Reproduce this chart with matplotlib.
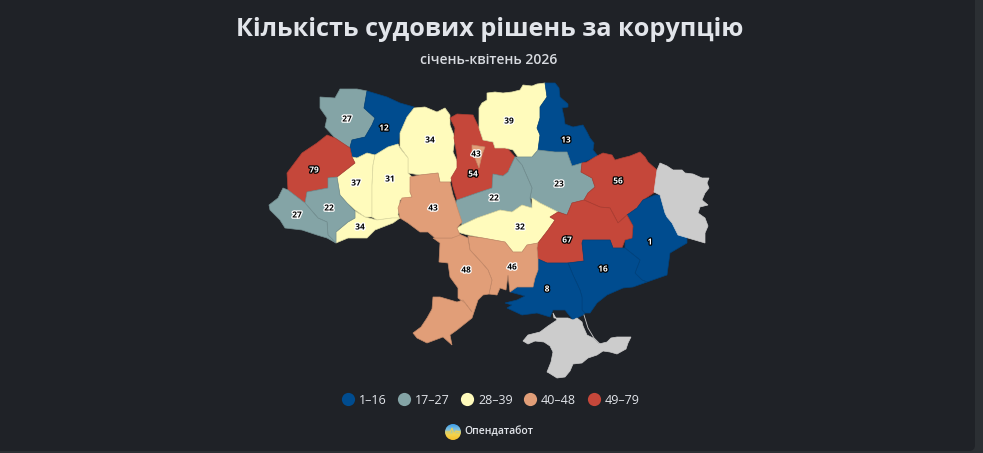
import matplotlib
matplotlib.use("Agg")
from matplotlib import pyplot as plt
from matplotlib.lines import Line2D
from matplotlib.patches import Circle, FancyBboxPatch, Polygon
import matplotlib.colors as mcolors
import matplotlib.patheffects as pe
import numpy as np

plt.rcParams["font.family"] = ["Open Sans", "DejaVu Sans"]

title = "Кількість судових рішень за корупцію"
subtitle = "січень-квітень 2026"
source = "Опендатабот"

regions = ["Волинська", "Рівненська", "Житомирська", "Тернопільська", "Хмельницька", "Чернівецька",
           "Львівська", "Івано-Франківська", "Закарпатська", "Київська", "Київ", "Чернігівська",
           "Сумська", "Полтавська", "Черкаська", "Кіровоградська", "Харківська", "Донецька",
           "Дніпропетровська", "Запорізька", "Херсонська", "Миколаївська", "Одеська", "Вінницька"]
values = [27, 12, 34, 37, 31, 34, 79, 22, 27, 54, 43, 39, 13, 23, 22, 32, 56, 1, 67, 16, 8, 46, 48, 43]

bin_edges = [17, 28, 40, 49]
bin_labels = ["1–16", "17–27", "28–39", "40–48", "49–79"]
bin_colors = ["#004c8f", "#84a4a6", "#fffbbc", "#e19e78", "#c5473a"]
nodata_color = "#cccccc"

# contours in reference pixels
volyn = [(320, 97), (335, 98), (340, 89), (357, 89), (367, 91), (364, 108), (375, 118), (372, 125), (365, 137),
         (352, 140), (350, 148), (342, 143), (335, 138), (325, 127), (327, 118), (320, 108)]
rivne = [(367, 91), (387, 97), (400, 103), (414, 107), (407, 117), (400, 133), (398, 145), (388, 147), (377, 155),
         (367, 153), (357, 158), (352, 157), (350, 147), (352, 140), (365, 137), (372, 125), (375, 118), (364, 108)]
zhytomyr = [(414, 108), (425, 107), (437, 112), (445, 108), (450, 115), (450, 125), (455, 138), (453, 152), (458, 163),
            (457, 173), (450, 182), (440, 182), (438, 173), (420, 175), (408, 173), (408, 158), (400, 147), (400, 133),
            (407, 117)]
ternopil = [(352, 157), (357, 158), (367, 153), (375, 155), (373, 165), (372, 185), (372, 217), (365, 217),
            (355, 210), (347, 203), (340, 195), (337, 177), (355, 163)]
khmelnytskyi = [(375, 155), (388, 147), (398, 144), (400, 148), (408, 158), (408, 173), (412, 177), (410, 192), (412, 197),
                (400, 200), (398, 215), (400, 218), (392, 218), (377, 220), (372, 217), (372, 185), (373, 165)]
chernivtsi = [(355, 211), (365, 217), (377, 220), (392, 218), (400, 218), (393, 223), (375, 230), (367, 238), (348, 238),
              (336, 243), (336, 232), (348, 222), (355, 218)]
lviv = [(327, 135), (335, 138), (350, 148), (352, 157), (355, 163), (337, 177), (328, 178), (328, 188), (307, 192),
        (305, 203), (288, 190), (287, 173), (302, 153), (317, 143)]
frankivsk = [(328, 178), (337, 177), (340, 195), (347, 203), (355, 211), (355, 218), (348, 222), (336, 232), (336, 243),
             (328, 235), (327, 222), (318, 218), (305, 203), (307, 192), (328, 188)]
zakarpattia = [(283, 188), (288, 190), (305, 203), (318, 218), (327, 222), (328, 235), (336, 243), (327, 238),
               (317, 235), (302, 230), (285, 228), (280, 220), (270, 210), (269, 205), (278, 198)]
kyiv_obl = [(450, 118), (457, 114), (473, 115), (479, 128), (483, 140), (493, 142), (495, 148), (507, 148), (515, 157),
            (508, 172), (503, 176), (493, 174), (492, 188), (477, 193), (457, 200), (453, 187), (451, 178), (457, 168),
            (457, 155), (454, 138), (455, 128)]
kyiv_city = [(472, 145), (485, 147), (482, 155), (479, 168), (475, 158), (472, 153)]
chernihiv = [(479, 108), (482, 103), (487, 100), (487, 93), (495, 92), (503, 93), (512, 92), (520, 90), (523, 85),
             (532, 86), (537, 84), (545, 83), (547, 97), (540, 107), (540, 118), (537, 128), (540, 135), (538, 150),
             (532, 157), (518, 157), (513, 150), (505, 148), (495, 148), (493, 142), (483, 140), (479, 128)]
sumy = [(545, 83), (555, 83), (559, 88), (560, 97), (568, 104), (568, 107), (562, 108), (564, 117), (565, 124), (573, 127),
        (583, 125), (587, 132), (590, 138), (594, 143), (593, 150), (598, 156), (582, 163), (572, 166), (567, 152),
        (555, 152), (538, 150), (540, 135), (537, 128), (540, 118), (540, 107), (547, 97)]
poltava = [(538, 150), (555, 152), (567, 152), (572, 166), (582, 163), (581, 172), (592, 178), (595, 187), (588, 193),
           (584, 200), (572, 203), (567, 215), (553, 210), (540, 203), (530, 198), (532, 188), (522, 165), (515, 157),
           (518, 157), (532, 157)]
cherkasy = [(515, 157), (522, 165), (532, 188), (530, 198), (532, 208), (522, 205), (512, 212), (500, 210), (477, 218),
            (462, 225), (454, 207), (457, 200), (477, 193), (492, 188), (493, 174), (503, 176), (508, 172)]
kirovohrad = [(532, 198), (540, 203), (558, 212), (550, 217), (555, 220), (548, 230), (538, 243), (527, 245), (522, 252),
              (513, 252), (505, 242), (483, 238), (468, 235), (457, 232), (457, 228), (462, 225), (477, 218), (500, 210),
              (512, 212), (522, 205), (532, 208)]
kharkiv = [(582, 163), (587, 162), (595, 157), (603, 153), (612, 155), (615, 160), (622, 158), (630, 156), (640, 152),
           (645, 157), (648, 162), (657, 170), (655, 192), (643, 200), (637, 208), (627, 215), (618, 223), (610, 208),
           (600, 207), (584, 200), (588, 193), (595, 187), (592, 178), (581, 172)]
donetsk = [(655, 195), (660, 195), (665, 213), (672, 223), (687, 238), (687, 243), (670, 253), (667, 275), (647, 282),
           (642, 280), (635, 273), (640, 260), (625, 248), (625, 240), (632, 238), (633, 226), (627, 215), (637, 208),
           (643, 200)]
dnipro = [(558, 212), (567, 215), (572, 203), (584, 200), (600, 207), (610, 208), (618, 223), (627, 215), (633, 226),
          (632, 238), (625, 240), (622, 248), (613, 248), (610, 240), (583, 240), (582, 243), (584, 261), (567, 263),
          (547, 263), (538, 259), (537, 248), (538, 243), (548, 230), (555, 220), (550, 217)]
zaporizhzhia = [(583, 240), (610, 240), (613, 248), (625, 248), (640, 260), (635, 273), (642, 280), (647, 282), (633, 287),
                (623, 288), (607, 295), (597, 303), (590, 313), (585, 313), (582, 310), (582, 297), (580, 290), (573, 275),
                (568, 263), (584, 261), (582, 243)]
kherson = [(538, 259), (547, 263), (567, 263), (568, 263), (573, 275), (580, 290), (582, 297), (582, 310), (585, 313),
           (583, 315), (573, 320), (565, 310), (553, 310), (550, 317), (537, 313), (522, 315), (507, 308), (512, 305),
           (505, 303), (517, 300), (525, 296), (510, 292), (517, 287), (533, 287), (535, 278), (538, 270)]
mykolaiv = [(468, 236), (483, 238), (505, 242), (513, 252), (522, 252), (527, 245), (538, 243), (537, 248), (538, 259),
            (538, 270), (535, 278), (533, 287), (517, 287), (510, 292), (508, 275), (506, 290), (500, 288), (497, 295),
            (489, 294), (492, 280), (488, 270), (482, 263), (470, 250)]
odesa = [(433, 238), (442, 238), (452, 238), (457, 233), (468, 238), (470, 250), (482, 263), (488, 270), (492, 280),
         (489, 294), (483, 295), (478, 300), (472, 318), (457, 330), (450, 335), (452, 345), (443, 337), (427, 343),
         (417, 338), (413, 333), (421, 327), (427, 318), (432, 309), (433, 297), (440, 297), (457, 302), (463, 300),
         (472, 312), (465, 303), (458, 298), (458, 288), (450, 277), (448, 263), (439, 262), (440, 243)]
vinnytsia = [(410, 177), (420, 175), (438, 173), (440, 182), (450, 182), (453, 195), (455, 200), (457, 207), (462, 222),
             (457, 228), (460, 235), (452, 238), (442, 238), (435, 238), (428, 232), (420, 232), (408, 223), (400, 218),
             (398, 208), (402, 198), (412, 197), (410, 192)]
luhansk = [(660, 163), (667, 166), (673, 170), (682, 170), (685, 173), (693, 174), (702, 178), (709, 178), (707, 183),
           (709, 188), (705, 193), (702, 200), (708, 205), (700, 207), (698, 213), (705, 218), (708, 226), (705, 233),
           (705, 243), (688, 238), (678, 235), (672, 223), (667, 217), (665, 213), (660, 195), (654, 192), (657, 170)]
crimea = [(553, 313), (554, 318), (563, 318), (568, 318), (573, 320), (577, 318), (582, 322), (583, 326), (587, 335),
          (593, 338), (599, 344), (607, 342), (611, 338), (617, 337), (624, 337), (631, 337), (628, 343), (626, 349),
          (617, 354), (610, 352), (603, 351), (597, 355), (588, 358), (582, 363), (573, 364), (570, 371), (565, 377),
          (557, 378), (549, 373), (547, 372), (551, 362), (553, 352), (550, 346), (544, 342), (535, 341), (528, 344),
          (523, 341), (528, 335), (540, 332), (548, 326), (557, 320)]
arabat_spit = [(584, 315), (588, 328), (594, 338), (600, 344)]

outlines = [volyn, rivne, zhytomyr, ternopil, khmelnytskyi, chernivtsi, lviv, frankivsk, zakarpattia, kyiv_obl, kyiv_city,
            chernihiv, sumy, poltava, cherkasy, kirovohrad, kharkiv, donetsk, dnipro, zaporizhzhia, kherson, mykolaiv,
            odesa, vinnytsia]
nodata_outlines = [luhansk, crimea]

label_xy = [(347, 119), (384, 128), (430, 140), (356, 183), (390, 179), (360, 227), (314, 170), (329, 208), (297, 215),
            (473, 174), (476, 154), (509, 121), (566, 140), (559, 184), (494, 198), (520, 227), (618, 181), (650, 242),
            (567, 240), (603, 269), (547, 289), (512, 267), (466, 270), (433, 208)]

logo_colors = ["#3d9ee8", "#7fc0e0", "#f6d34a", "#f5c02f"]


def darker(color, k=0.88):
    return tuple(c * k for c in mcolors.to_rgb(color))


fig = plt.figure(figsize=(9.83, 4.53), dpi=100, facecolor="#2b2f33")
ax = fig.add_axes([0, 0, 1, 1])
ax.set_xlim(0, 983)
ax.set_ylim(453, 0)
ax.axis("off")

ax.add_patch(FancyBboxPatch((-20, -20), 995, 471, boxstyle="round,pad=0,rounding_size=6",
                            facecolor="#1f2227", edgecolor="none"))

for outline, value in zip(outlines, values):
    color = bin_colors[np.digitize(value, bin_edges)]
    ax.add_patch(Polygon(outline, closed=True, facecolor=color, edgecolor=darker(color), linewidth=0.5))
for outline in nodata_outlines:
    ax.add_patch(Polygon(outline, closed=True, facecolor=nodata_color, edgecolor=nodata_color, linewidth=0.5))
ax.plot(*zip(*arabat_spit), color=nodata_color, linewidth=0.6)

for (x, y), value in zip(label_xy, values):
    idx = np.digitize(value, bin_edges)
    dark_fill = idx in (0, 4)
    ax.text(x, y, str(value), ha="center", va="center", fontsize=6, fontweight="bold",
            color="white" if dark_fill else "black",
            path_effects=[pe.withStroke(linewidth=1.8, foreground="black" if dark_fill else "white")])

ax.text(489.5, 29, title, ha="center", va="center", fontsize=18.2, fontweight="bold", color="#e2e5ea")
ax.text(489, 60, subtitle, ha="center", va="center", fontsize=10, fontweight="semibold", color="#d8dbe0")

handles = [Line2D([], [], linestyle="none", marker="o", markersize=9.5, markerfacecolor=c, markeredgecolor="none")
           for c in bin_colors]
ax.legend(handles, bin_labels, ncol=5, loc="center", bbox_to_anchor=(490 / 983, 1 - 400 / 453), frameon=False,
          labelcolor="#e2e5ea", fontsize=9, handletextpad=0.26, columnspacing=0.8, handlelength=1.2)

# logo
cmap = mcolors.LinearSegmentedColormap.from_list("logo", logo_colors)
logo = ax.imshow(np.linspace(0, 1, 32).reshape(-1, 1), cmap=cmap, extent=(445, 461, 440, 424), aspect="auto", zorder=3)
logo.set_clip_path(Circle((453, 432), 8, transform=ax.transData))
ax.set_xlim(0, 983)
ax.set_ylim(453, 0)
ax.plot([446, 450, 452, 454, 456, 460], [432, 432, 428, 435, 431, 432], color="#f6d34a", linewidth=0.7, zorder=4)
ax.text(464.5, 432, source, ha="left", va="center", fontsize=7.5, fontweight="semibold", color="#e2e5ea")

fig.savefig("out.png", dpi=100, facecolor=fig.get_facecolor())
